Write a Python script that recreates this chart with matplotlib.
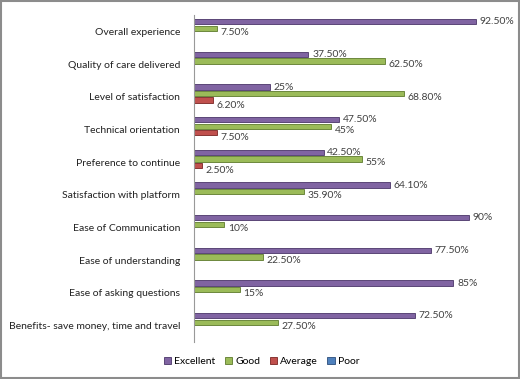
import numpy as np
import matplotlib
matplotlib.use('Agg')
from matplotlib import pyplot as plt
from matplotlib.patches import Rectangle

plt.rcParams['font.family'] = ['Lato', 'DejaVu Sans']

categories = [
    'Overall experience',
    'Quality of care delivered',
    'Level of satisfaction',
    'Technical orientation',
    'Preference to continue',
    'Satisfaction with platform',
    'Ease of Communication',
    'Ease of understanding',
    'Ease of asking questions',
    'Benefits- save money, time and travel',
]
excellent = [92.5, 37.5, 25, 47.5, 42.5, 64.1, 90, 77.5, 85, 72.5]
good = [7.5, 62.5, 68.8, 45, 55, 35.9, 10, 22.5, 15, 27.5]
average = [0, 0, 6.2, 7.5, 2.5, 0, 0, 0, 0, 0]
poor = [0, 0, 0, 0, 0, 0, 0, 0, 0, 0]
series_names = ['Excellent', 'Good', 'Average', 'Poor']

colors = ['#8064A2', '#9BBB59', '#C0504D', '#4F81BD']
edges = ['#4B3568', '#5E7A2C', '#7A2422', '#2C4D7A']


def fmt(v):
    if float(v).is_integer():
        return f'{int(v)}%'
    return f'{v:.2f}%'


fig = plt.figure(figsize=(5.2, 3.79), dpi=100)
ax = fig.add_axes([0.373, 0.098, 0.587, 0.862])

y = np.arange(len(categories))
offsets = [-0.3, -0.1, 0.1, 0.3]
# labels sit a little below the green / red bars, like in excel
label_shift = [0.0, 0.12, 0.15, 0.15]
handles = []
for data, name, c, ec, off, ls in zip([excellent, good, average, poor], series_names,
                                      colors, edges, offsets, label_shift):
    b = ax.barh(y + off, data, height=0.16, color=c, edgecolor=ec, linewidth=0.6, label=name)
    handles.append(b)
    for yi, v in zip(y, data):
        if v > 0:
            ax.text(v + 1.2, yi + off + ls, fmt(v), va='center', ha='left',
                    fontsize=7.5, color='#404040')

ax.set_ylim(len(categories) - 0.5, -0.5)
ax.set_xlim(0, 100)
ax.set_yticks(y)
ax.set_yticklabels(categories, fontsize=7.5, color='#222222')
ax.tick_params(axis='y', length=0, pad=10)
ax.set_xticks([])
for s in ['top', 'right', 'bottom']:
    ax.spines[s].set_visible(False)
ax.spines['left'].set_color('#999999')

fig.legend(handles=handles, labels=series_names, loc='center', bbox_to_anchor=(0.503, 0.047),
           ncol=4, frameon=False, fontsize=7.5, handlelength=0.7, handleheight=0.7,
           handletextpad=0.3, columnspacing=0.9)

fig.patches.append(Rectangle((0.002, 0.003), 0.996, 0.994, transform=fig.transFigure,
                             fill=False, edgecolor='#8C8C8C', linewidth=1.5))

fig.savefig('out.png', dpi=100)
